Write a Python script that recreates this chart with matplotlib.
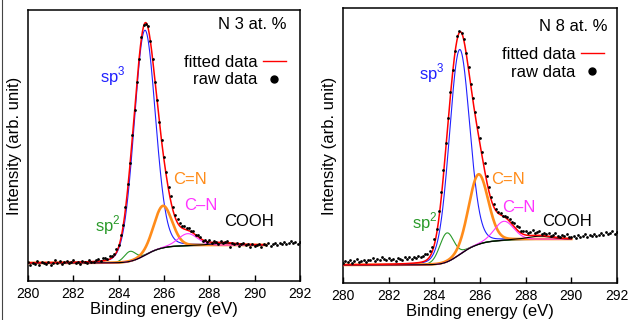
import numpy as np
import matplotlib.pyplot as plt
from matplotlib.lines import Line2D

plt.rcParams['font.family'] = ['Liberation Sans', 'DejaVu Sans']
plt.rcParams['mathtext.fontset'] = 'custom'
plt.rcParams['mathtext.rm'] = 'Liberation Sans'

# raw data grid (eV)
raw_start, raw_stop, raw_step = 280.0, 292.0, 0.1

# fitted components: sp2, sp3, C=N, C-N, COOH  (centre eV, height, FWHM eV)
comp_labels = [r'sp$^{\mathrm{2}}$', r'sp$^{\mathrm{3}}$', 'C=N', 'C–N', 'COOH']
comp_colors = ['#2a9a2a', '#2020ff', '#ff8c1a', '#ff33ff', 'black']
comp_widths = [0.8, 0.8, 1.9, 0.8, 0.8]

n3_centres = [284.50, 285.15, 285.95, 287.05, 288.60]
n3_heights = [10, 225, 42, 12, 2]
n3_fwhm = [0.60, 1.10, 0.95, 1.00, 1.20]
n3_step = 18
n3_fit_end = 290.5
n3_resid = [1, -2, 0, -1, 2, -2, 1, 0, -1, 1,
            -2, 0, 2, -1, 1, -2, 0, 1, -1, 0,
            2, -1, 0, -2, 1, 0, -1, 2, 0, -1,
            1, 2, 0, 3, 2, 1, 3, 2, 2, 3,
            2, 3, 1, 2, 4, 2, 3, 1, 2, 0,
            2, 1, -1, 2, 0, 1, -1, 2, 1, 2,
            3, 4, 3, 5, 4, 3, 4, 3, 2, 3,
            2, 3, 1, 2, 0, 2, 1, -1, 1, 0,
            2, -1, 1, 0, -2, 1, -1, 0, 2, -4,
            0, -1, 1, -2, 0, 1, -1, 0, -3, 1,
            -1, 0, 1, -2, 1, 0, 2, -1, 1, 2,
            0, 2, 1, 3, 1, 2, 4, 2, 3, 1, 3]

n8_centres = [284.54, 285.10, 285.93, 287.05, 288.60]
n8_heights = [29, 205, 70, 19, 3]
n8_fwhm = [0.73, 1.05, 1.00, 1.00, 1.20]
n8_step = 26
n8_fit_end = 290.0
n8_resid = [2, 4, 3, 5, 2, 4, 6, 3, 4, 5,
            3, 5, 4, 6, 3, 5, 4, 7, 5, 4,
            6, 4, 5, 3, 6, 5, 4, 7, 5, 6,
            4, 6, 5, 7, 5, 6, 7, 5, 6, 5,
            6, 5, 7, 6, 5, 6, 4, 5, 3, 2,
            3, 1, 0, 2, 1, 3, 2, 4, 5, 4,
            6, 5, 7, 6, 5, 4, 3, 2, 1, 2,
            0, 1, 2, 3, 2, 4, 3, 4, 2, 3,
            4, 2, 3, 5, 2, 3, 4, 1, 3, 2,
            3, 1, 2, 4, 2, 1, 3, 2, 4, 1,
            2, 3, 1, 4, 2, 3, 5, 2, 4, 3,
            5, 3, 4, 6, 4, 7, 5, 6, 8, 5, 7]

xticks = [280, 282, 284, 286, 288, 290, 292]


def pseudo_voigt(x, c, h, w, eta=0.1):
    g = np.exp(-4 * np.log(2) * ((x - c) / w) ** 2)
    l = 1 / (1 + (2 * (x - c) / w) ** 2)
    return h * ((1 - eta) * g + eta * l)


def draw_panel(ax, centres, heights, fwhm, step, fit_end, resid, title,
               ylim, label_pos, title_pos, legend_anchor):
    grid = np.arange(raw_start, raw_stop + 0.001, 0.01)
    peaks = [pseudo_voigt(grid, c, h, w) for c, h, w in zip(centres, heights, fwhm)]
    total = np.sum(peaks, axis=0)
    # shirley-like step background
    bg = step * np.cumsum(total) / np.sum(total)
    fit = bg + total

    m = grid <= fit_end + 1e-9
    ax.plot(grid[m], bg[m], color='black', lw=1.0, zorder=2)
    for p, col, lw in zip(peaks, comp_colors, comp_widths):
        ax.plot(grid[m], (bg + p)[m], color=col, lw=lw, zorder=3)
    ax.plot(grid[m], fit[m], color='red', lw=1.1, zorder=4)

    xr = np.arange(raw_start, raw_stop + 0.001, raw_step)
    yr = np.interp(xr, grid, fit) + np.array(resid)
    ax.plot(xr, yr, ls='none', marker='o', ms=2.0, mew=0, color='black', zorder=5)

    for lab, col, pos in zip(comp_labels, comp_colors, label_pos):
        ax.text(pos[0], pos[1], lab, color=col, fontsize=12,
                ha='center', va='center', transform=ax.transAxes)
    ax.text(title_pos[0], title_pos[1], title, fontsize=12, ha='right',
            va='center', transform=ax.transAxes)

    handles = [Line2D([], [], color='red', lw=1.0),
               Line2D([], [], ls='none', marker='o', ms=5, color='black')]
    ax.legend(handles, ['fitted data', 'raw data'], markerfirst=False,
              frameon=False, loc='upper right', bbox_to_anchor=legend_anchor,
              borderaxespad=0, borderpad=0, fontsize=12, handlelength=1.4,
              handletextpad=0.3, labelspacing=0.15)

    ax.set_xlim(280, 292)
    ax.set_ylim(*ylim)
    ax.set_xticks(xticks)
    ax.set_yticks([])
    ax.tick_params(axis='x', direction='in', length=4, width=1, labelsize=10, pad=4)
    for s in ax.spines.values():
        s.set_linewidth(1.1)
    ax.set_xlabel('Binding energy (eV)', fontsize=12, labelpad=1)
    ax.set_ylabel('Intensity (arb. unit)', fontsize=12, labelpad=4)


fig = plt.figure(figsize=(6.39, 3.20), dpi=100)
ax1 = fig.add_axes([28 / 639, 39 / 320, 272 / 639, 271 / 320])
ax2 = fig.add_axes([343 / 639, 37 / 320, 274 / 639, 275 / 320])

draw_panel(ax1, n3_centres, n3_heights, n3_fwhm, n3_step, n3_fit_end, n3_resid,
           'N 3 at. %', (-18, 253),
           [(0.294, 0.207), (0.3125, 0.756), (0.596, 0.376), (0.636, 0.277), (0.8125, 0.221)],
           (0.952, 0.948), (0.949, 0.834))
draw_panel(ax2, n8_centres, n8_heights, n8_fwhm, n8_step, n8_fit_end, n8_resid,
           'N 8 at. %', (-18, 257),
           [(0.299, 0.222), (0.325, 0.764), (0.602, 0.378), (0.642, 0.273), (0.818, 0.222)],
           (0.967, 0.931), (0.953, 0.858))

fig.add_artist(Line2D([2 / 639, 2 / 639], [0, 1], color='#444444', lw=0.8))

fig.savefig('out.png', dpi=100)
